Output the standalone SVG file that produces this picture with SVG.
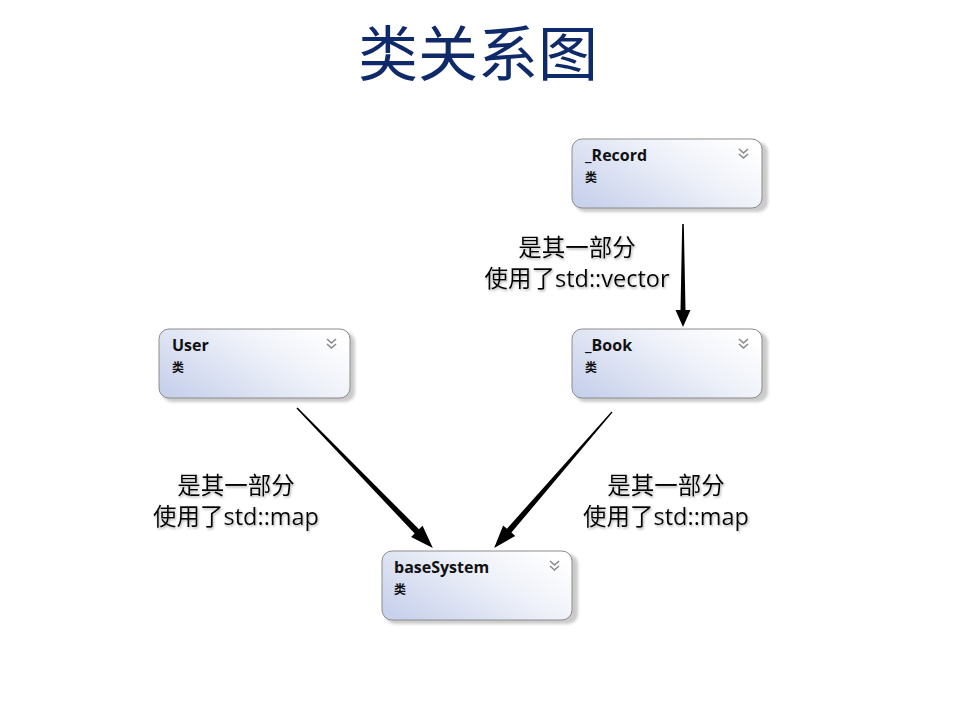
<svg xmlns="http://www.w3.org/2000/svg" width="960" height="720" viewBox="0 0 960 720">
<style>
.box{fill:url(#g);stroke:#8c8c8c;stroke-width:1}
.shadow{fill:#a8a8a8;opacity:0.6}
.name{font-family:"Open Sans","Noto Sans",sans-serif;font-weight:bold;font-size:16px;fill:#111}
.kind{font-family:"Noto Sans CJK SC",sans-serif;font-weight:bold;font-size:12px;fill:#111}
.chev{fill:none;stroke:#8a8a8a;stroke-width:1.6}
.lbl{font-family:"Open Sans","Noto Sans CJK SC",sans-serif;font-size:23.5px;fill:#000;text-anchor:middle;filter:url(#ts)}
.title{font-family:"Noto Sans CJK SC",sans-serif;font-size:60px;fill:#0f2a6a;text-anchor:middle}
.arr{fill:#000}
</style>
<defs>
<linearGradient id="g" x1="0" y1="0.8" x2="1" y2="0.2">
<stop offset="0" stop-color="#c9d2ec"/>
<stop offset="0.6" stop-color="#eef1f9"/>
<stop offset="1" stop-color="#ffffff"/>
</linearGradient>
<filter id="ts" x="-10%" y="-30%" width="120%" height="160%">
<feDropShadow dx="1" dy="1.5" stdDeviation="0.8" flood-color="#808080" flood-opacity="0.6"/>
</filter>
<filter id="bs" x="-10%" y="-20%" width="130%" height="150%">
<feGaussianBlur stdDeviation="1.5"/>
</filter>
</defs>
<rect width="960" height="720" fill="#fff"/>
<text class="title" x="478" y="76">类关系图</text>

<g id="record">
<rect class="shadow" x="575" y="142" width="193" height="70" rx="10" filter="url(#bs)"/>
<rect class="box" x="572" y="139" width="190" height="69" rx="10"/>
<text class="name" x="585" y="161">_Record</text>
<text class="kind" x="585" y="182">类</text>
<polyline class="chev" points="739,149 743.5,153 748,149"/>
<polyline class="chev" points="739,154 743.5,158 748,154"/>
</g>

<g id="book">
<rect class="shadow" x="575" y="332" width="193" height="70" rx="10" filter="url(#bs)"/>
<rect class="box" x="572" y="329" width="190" height="69" rx="10"/>
<text class="name" x="585" y="351">_Book</text>
<text class="kind" x="585" y="372">类</text>
<polyline class="chev" points="739,339 743.5,343 748,339"/>
<polyline class="chev" points="739,344 743.5,348 748,344"/>
</g>

<g id="user">
<rect class="shadow" x="162" y="332" width="193" height="70" rx="10" filter="url(#bs)"/>
<rect class="box" x="159" y="329" width="191" height="69" rx="10"/>
<text class="name" x="172" y="351">User</text>
<text class="kind" x="172" y="372">类</text>
<polyline class="chev" points="327,339 331.5,343 336,339"/>
<polyline class="chev" points="327,344 331.5,348 336,344"/>
</g>

<g id="baseSystem">
<rect class="shadow" x="385" y="554" width="193" height="70" rx="10" filter="url(#bs)"/>
<rect class="box" x="382" y="551" width="190" height="69" rx="10"/>
<text class="name" x="394" y="573">baseSystem</text>
<text class="kind" x="394" y="594">类</text>
<polyline class="chev" points="550,561 554.5,565 559,561"/>
<polyline class="chev" points="550,566 554.5,570 559,566"/>
</g>

<g id="connectors">
<polygon class="arr" transform="translate(683,224) rotate(90)" points="0,-0.8 86,-2.5 86,-7.5 103,0 86,7.5 86,2.5 0,0.8"/>
<polygon class="arr" transform="translate(297,408) rotate(45.84)" points="0,-0.8 172,-3 172,-8 195,0 172,8 172,3 0,0.8"/>
<polygon class="arr" transform="translate(612,412) rotate(130.91)" points="0,-0.6 157,-3 157,-8 180,0 157,8 157,3 0,0.6"/>
<text class="lbl" x="577" y="256">是其一部分</text>
<text class="lbl" x="577" y="287">使用了std::vector</text>
<text class="lbl" x="236" y="494">是其一部分</text>
<text class="lbl" x="236" y="525">使用了std::map</text>
<text class="lbl" x="666" y="494">是其一部分</text>
<text class="lbl" x="666" y="525">使用了std::map</text>
</g>
</svg>
